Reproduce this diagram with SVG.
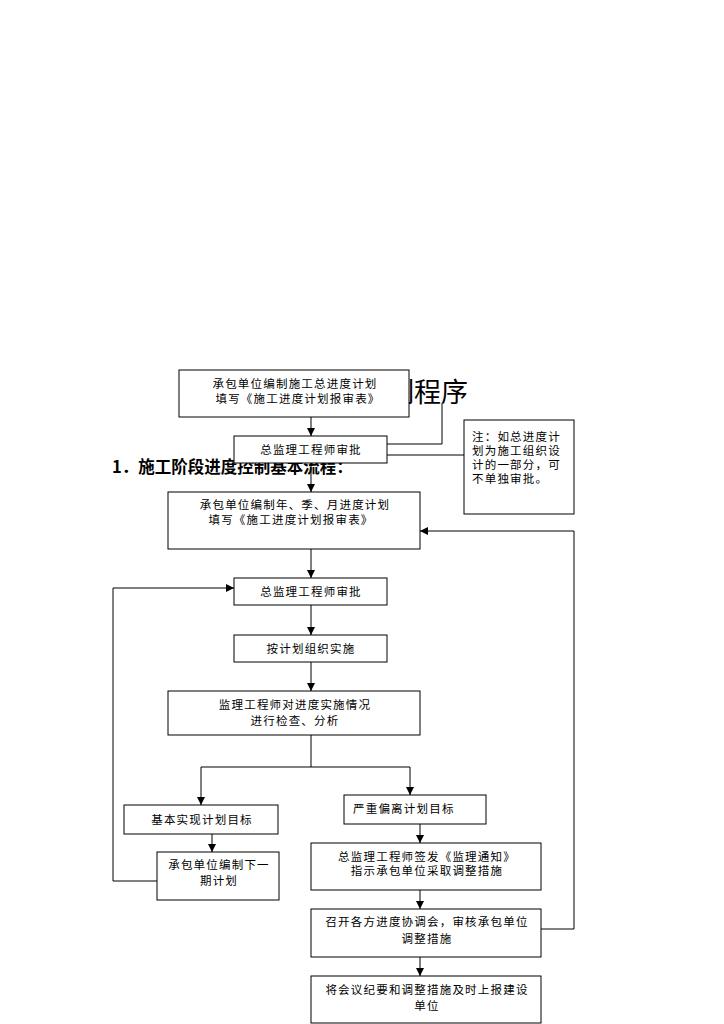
<svg xmlns="http://www.w3.org/2000/svg" width="724" height="1024" viewBox="0 0 724 1024">
<defs>
<marker id="ah" viewBox="0 0 8 8" refX="8" refY="4" markerWidth="8" markerHeight="8" markerUnits="userSpaceOnUse" orient="auto">
<path d="M0,0 L8,4 L0,8 Z" fill="#000"/>
</marker>
<style>
.box{fill:#fff;stroke:#000;stroke-width:1}
.t{font-family:"Noto Sans CJK SC","Liberation Sans",sans-serif;font-size:11.5px;letter-spacing:1.2px;fill:#000;text-anchor:middle}
.tl{font-family:"Noto Sans CJK SC","Liberation Sans",sans-serif;font-size:11.5px;letter-spacing:1.2px;fill:#000}
.ln{fill:none;stroke:#000;stroke-width:1}
.ar{fill:none;stroke:#000;stroke-width:1;marker-end:url(#ah)}
</style>
</defs>
<rect width="724" height="1024" fill="#fff"/>
<g id="titles">
<text x="468" y="402" font-family="'Noto Sans CJK SC',sans-serif" font-size="27" text-anchor="end" fill="#000">制程序</text>
<text x="112" y="473" font-family="'Noto Sans CJK SC',sans-serif" font-size="16.5" font-weight="bold" fill="#000">1．施工阶段进度控制基本流程：</text>
</g>
<g id="connectors">
<line class="ar" x1="311" y1="417" x2="311" y2="436"/>
<polyline class="ln" points="387,444 442,444 442,403"/>
<line class="ln" x1="387" y1="455" x2="464" y2="455"/>
<line class="ar" x1="311" y1="463" x2="311" y2="492"/>
<line class="ar" x1="311" y1="549" x2="311" y2="578"/>
<line class="ar" x1="311" y1="605" x2="311" y2="635"/>
<line class="ar" x1="311" y1="662" x2="311" y2="691"/>
<polyline class="ln" points="311,735 311,767"/>
<polyline class="ar" points="311,767 201,767 201,805"/>
<polyline class="ar" points="311,767 410,767 410,795"/>
<line class="ar" x1="212" y1="834" x2="212" y2="852"/>
<polyline class="ar" points="157,881 113,881 113,588 234,588"/>
<line class="ar" x1="420" y1="824" x2="420" y2="843"/>
<line class="ar" x1="420" y1="890" x2="420" y2="909"/>
<polyline class="ar" points="541,929 574,929 574,531 420,531"/>
<line class="ar" x1="420" y1="957" x2="420" y2="976"/>
</g>
<g id="n1"><rect class="box" x="179" y="370" width="230" height="47"/>
<text class="t" x="295" y="388">承包单位编制施工总进度计划</text>
<text class="t" x="298" y="403">填写《施工进度计划报审表》</text></g>
<g id="n2"><rect class="box" x="234" y="436" width="153" height="27"/>
<text class="t" x="311" y="454">总监理工程师审批</text></g>
<g id="note"><rect class="box" x="464" y="420" width="110" height="94"/>
<text class="tl" x="472" y="441">注：如总进度计</text>
<text class="tl" x="472" y="455">划为施工组织设</text>
<text class="tl" x="472" y="469">计的一部分，可</text>
<text class="tl" x="472" y="483">不单独审批。</text></g>
<g id="n3"><rect class="box" x="168" y="492" width="252" height="57"/>
<text class="t" x="295" y="509">承包单位编制年、季、月进度计划</text>
<text class="t" x="291" y="524">填写《施工进度计划报审表》</text></g>
<g id="n4"><rect class="box" x="234" y="578" width="153" height="27"/>
<text class="t" x="311" y="596">总监理工程师审批</text></g>
<g id="n5"><rect class="box" x="234" y="635" width="153" height="27"/>
<text class="t" x="311" y="653">按计划组织实施</text></g>
<g id="n6"><rect class="box" x="168" y="691" width="252" height="44"/>
<text class="t" x="295" y="709">监理工程师对进度实施情况</text>
<text class="t" x="295" y="725">进行检查、分析</text></g>
<g id="n7"><rect class="box" x="124" y="805" width="154" height="29"/>
<text class="t" x="202" y="824">基本实现计划目标</text></g>
<g id="n8"><rect class="box" x="344" y="795" width="142" height="29"/>
<text class="tl" x="353" y="813">严重偏离计划目标</text></g>
<g id="n9"><rect class="box" x="157" y="852" width="122" height="48"/>
<text class="t" x="219" y="869">承包单位编制下一</text>
<text class="t" x="219" y="885">期计划</text></g>
<g id="n10"><rect class="box" x="311" y="843" width="230" height="47"/>
<text class="t" x="427" y="861">总监理工程师签发《监理通知》</text>
<text class="t" x="427" y="875">指示承包单位采取调整措施</text></g>
<g id="n11"><rect class="box" x="311" y="909" width="230" height="48"/>
<text class="t" x="427" y="926">召开各方进度协调会，审核承包单位</text>
<text class="t" x="427" y="943">调整措施</text></g>
<g id="n12"><rect class="box" x="311" y="976" width="230" height="47"/>
<text class="t" x="427" y="994">将会议纪要和调整措施及时上报建设</text>
<text class="t" x="427" y="1010">单位</text></g>
</svg>
